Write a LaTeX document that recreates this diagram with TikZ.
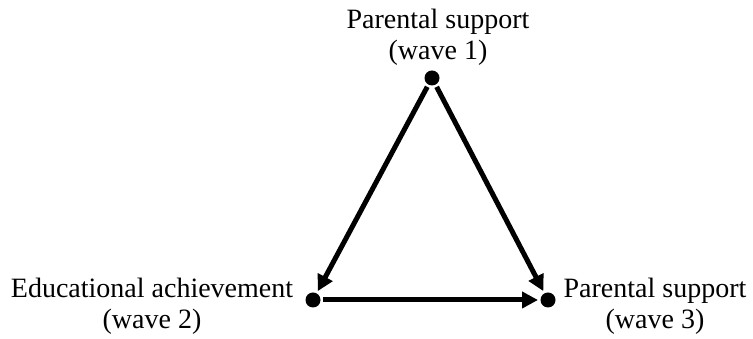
\documentclass[tikz,border=0pt]{standalone}
\usepackage{fontspec}
\setmainfont{Liberation Serif}
\usepackage{tikz}
\usetikzlibrary{positioning,arrows.meta}

\begin{document}
\begin{tikzpicture}[x=1pt, y=1pt, line width=5pt, line join=miter,
  wave/.style={circle, fill=black, inner sep=0pt, minimum size=15pt},
  lbl/.style={align=center, inner sep=0pt, font=\fontsize{28}{31}\selectfont},
  path/.style={-{Triangle[length=16pt,width=16pt]}}]
  \useasboundingbox (0,0) rectangle (753,339);
  % the three measurements
  \node[wave] (w1) at (432,261) {};
  \node[wave] (w2) at (313,39) {};
  \node[wave] (w3) at (548,39) {};
  % their labels
  \node[lbl] (w1lbl) at (438,302) {Parental support\\(wave 1)};
  \node[lbl] (w2lbl) at (152,33) {Educational achievement\\(wave 2)};
  \node[lbl] (w3lbl) at (655,33) {Parental support\\(wave 3)};
  % paths
  \draw[path] (w1) -- (w2);
  \draw[path] (w1) -- (w3);
  \draw[path] (w2) -- (w3);
\end{tikzpicture}
\end{document}
